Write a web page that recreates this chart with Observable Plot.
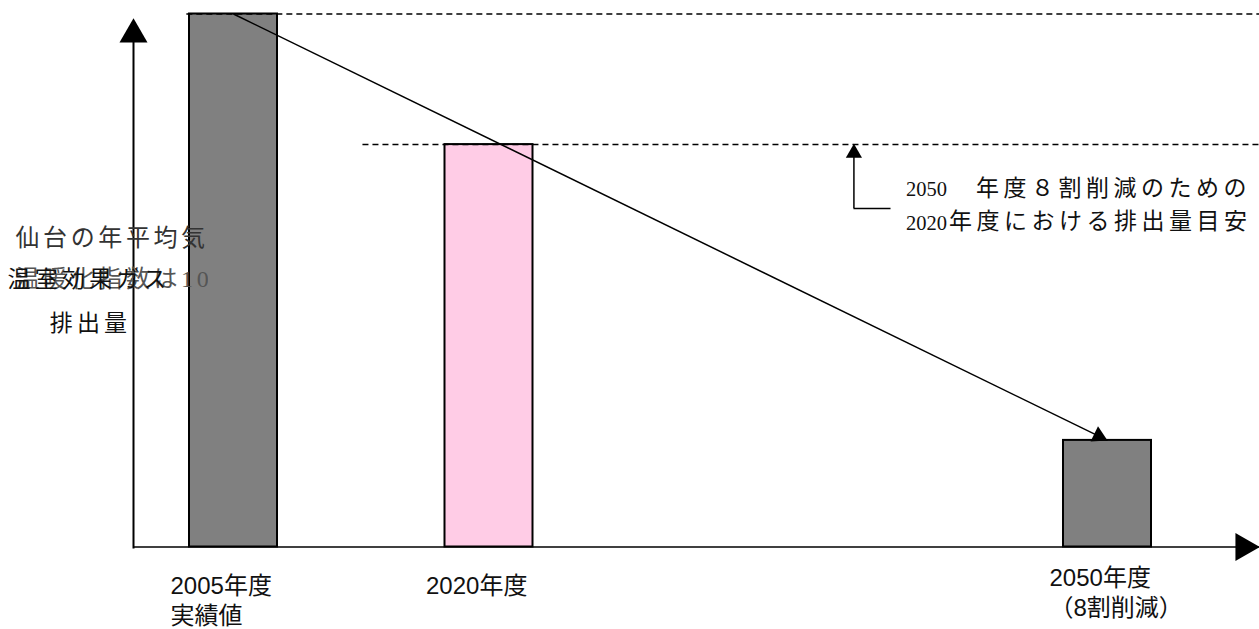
<!DOCTYPE html>
<html>
<head>
<meta charset="utf-8">
<script src="https://cdn.jsdelivr.net/npm/d3@7"></script>
<script src="https://cdn.jsdelivr.net/npm/@observablehq/plot@0.6"></script>
<style>
  html, body { margin: 0; padding: 0; background: #fff; }
</style>
</head>
<body>
<div id="chart"></div>
<script>
// Emissions path: 2005 actual, 2020 guideline, 2050 target (2005 = 100)
const categories = ["2005年度\n実績値", "2020年度", "2050年度\n（8割削減）"];
const years = [2005, 2020, 2050];
const emissions = [100, 75.5, 20];
const status = ["実績", "目安", "目標"];

// Dashed guide levels and where each starts
const guideValues = [100, 75.5];
const guideStartYears = [2002.2, 2012.6];

// Callout pointing at the 2020 guideline level
const noteYear = 2037.7;
const noteEndYear = 2039.5;
const noteBase = 63.5;
const noteNumbers = ["2050", "2020"];
const noteLines = ["年度８割削減のための", "年度における排出量目安"];

// Axis titles
const axisTitle = ["温室効果ガス", "排出量"];
const tempTitle = ["仙台の年平均気", "温暖化指数は100("];

const bars = years.map((year, i) => ({year, value: emissions[i], status: status[i], label: categories[i]}));
const guides = guideValues.map((value, i) => ({value, start: guideStartYears[i]}));
const trend = [{x1: years[0], y1: emissions[0], x2: years[years.length - 1], y2: emissions[emissions.length - 1]}];

const X_MIN = 1999, X_MAX = 2059;
// The time axis is not uniform: the 2020–2050 stretch is drawn a little wider
const timeAxis = d3.scaleLinear()
  .domain([X_MIN, 2005, 2020, 2050, X_MAX])
  .range([0, 100, 355.5, 974, 1126]);

const sansJP = '"Liberation Sans", "Noto Sans CJK JP", sans-serif';
const serifJP = '"Liberation Serif", "Noto Sans CJK JP", serif';
const tag = name => () => name;

const chart = Plot.plot({
  width: 1259,
  height: 629,
  marginLeft: 133,
  marginRight: 0,
  marginTop: 14,
  marginBottom: 83,
  style: {background: "#fff", overflow: "visible"},
  x: {transform: t => timeAxis(t), range: [133, 1259], axis: null},
  y: {domain: [0, 100], range: [546.5, 13.5], axis: null},
  color: {type: "ordinal", domain: status, range: ["#808080", "#ffcce6", "#808080"]},
  marks: [
    // axes
    Plot.ruleX([X_MIN], {y1: 100, y2: 0, stroke: "black", strokeWidth: 2, insetTop: 26, insetBottom: -2}),
    Plot.ruleY([0], {x1: X_MIN, x2: X_MAX, stroke: "black", strokeWidth: 1.6}),
    // bars
    Plot.rectY(bars, {x1: "year", x2: "year", y: "value", fill: "status", stroke: "black", strokeWidth: 2, insetLeft: -44, insetRight: -44, ariaLabel: tag("bar")}),
    // dashed guide levels
    Plot.ruleY(guides, {y: "value", x1: "start", x2: X_MAX, stroke: "black", strokeWidth: 1.5, strokeDasharray: "6,4"}),
    // reduction path with arrowhead
    Plot.link(trend, {x1: "x1", y1: "y1", x2: "x2", y2: "y2", stroke: "black", strokeWidth: 1.5}),
    Plot.dot(trend, {x: "x2", y: "y2", symbol: "triangle", r: 6.3, fill: "black", stroke: "none", rotate: 116, dx: -8.8, dy: -4.3}),
    // callout arrow
    Plot.ruleX([noteYear], {y1: guideValues[1], y2: noteBase, stroke: "black", strokeWidth: 1.5, insetTop: 12}),
    Plot.ruleY([noteBase], {x1: noteYear, x2: noteEndYear, stroke: "black", strokeWidth: 1.5}),
    Plot.dot([noteYear], {x: d => d, y: guideValues[1], symbol: "triangle", r: 6, fill: "black", stroke: "none", dy: 8.5}),
    // callout text
    Plot.text([noteNumbers.join("\n")], {x: noteYear, y: noteBase, text: d => d, textAnchor: "start", dx: 52, dy: -6.5, lineHeight: 1.65, fontSize: 20.5, fontFamily: serifJP, fill: "#111"}),
    Plot.text([noteLines[0]], {x: noteYear, y: noteBase, text: d => d, textAnchor: "start", dx: 122, dy: -20, fontSize: 23, fontFamily: sansJP, fill: "#111", ariaLabel: tag("note-ja")}),
    Plot.text([noteLines[1]], {x: noteYear, y: noteBase, text: d => d, textAnchor: "start", dx: 95, dy: 13, fontSize: 23, fontFamily: sansJP, fill: "#111", ariaLabel: tag("note-ja")}),
    // category labels
    Plot.text(bars.filter(d => d.year < 2050), {x: "year", y: 0, text: "label", textAnchor: "start", lineAnchor: "top", dx: -63, dy: 25.5, lineHeight: 1.25, fontSize: 24, fontFamily: sansJP, fill: "#111"}),
    Plot.text(bars.filter(d => d.year >= 2050), {x: "year", y: 0, text: "label", textAnchor: "start", lineAnchor: "top", dx: -58, dy: 18, lineHeight: 1.25, fontSize: 24, fontFamily: sansJP, fill: "#111"}),
    // y-axis titles
    Plot.text([tempTitle[0]], {frameAnchor: "left", text: d => d, textAnchor: "start", dx: -118, dy: -42.5, fontSize: 24, fontFamily: serifJP, fill: "#333", ariaLabel: tag("temp-title")}),
    Plot.text([tempTitle[1]], {frameAnchor: "left", text: d => d, textAnchor: "start", dx: -118, dy: -1, fontSize: 24, fontFamily: serifJP, fill: "#555", ariaLabel: tag("temp-title")}),
    Plot.text([axisTitle[0]], {frameAnchor: "left", text: d => d, textAnchor: "start", dx: -126, dy: -1, fontSize: 23, fontFamily: sansJP, fill: "#111", ariaLabel: tag("axis-title")}),
    Plot.text([axisTitle[1]], {frameAnchor: "left", text: d => d, textAnchor: "middle", dx: -43, dy: 43, fontSize: 23, fontFamily: sansJP, fill: "#111", ariaLabel: tag("axis-title")}),
    // axis arrowheads
    Plot.dot([X_MIN], {x: d => d, y: 100, symbol: "triangle", r: 10.4, fill: "black", stroke: "none", dy: 20.5}),
    Plot.dot([X_MAX], {x: d => d, y: 0, symbol: "triangle", r: 10.4, fill: "black", stroke: "none", rotate: 90, dx: -16})
  ]
});

document.getElementById("chart").appendChild(chart);

// Wide CJK spacing for the Japanese labels
const svg = d3.select(chart);
svg.selectAll('text[aria-label="note-ja"]').attr("letter-spacing", 4.5);
svg.selectAll('text[aria-label="axis-title"]').attr("letter-spacing", 4.2);
svg.selectAll('text[aria-label="temp-title"]').attr("letter-spacing", 3.6);

// The temperature caption sits in a box that ends just inside the first bar
const ns = "http://www.w3.org/2000/svg";
const firstBar = svg.select('rect[aria-label="bar"]').node();
const clipRight = +firstBar.getAttribute("x") + 19;
const defs = svg.insert("defs", ":first-child");
defs.append("clipPath").attr("id", "temp-title-clip")
  .append("rect").attr("x", 0).attr("y", 0).attr("width", clipRight).attr("height", 629);
const titleGroups = new Set();
svg.selectAll('text[aria-label="temp-title"]').each(function () { titleGroups.add(this.parentNode); });
titleGroups.forEach(g => {
  const wrap = document.createElementNS(ns, "g");
  wrap.setAttribute("clip-path", "url(#temp-title-clip)");
  g.parentNode.insertBefore(wrap, g);
  wrap.appendChild(g);
});
</script>
</body>
</html>
